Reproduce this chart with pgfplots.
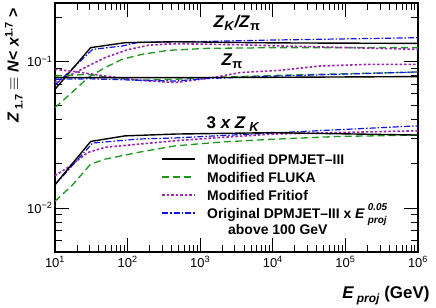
\documentclass[border=0pt]{standalone}
\usepackage{fontspec}
\setmainfont{Liberation Sans}
\usepackage{pgfplots}
\pgfplotsset{compat=1.18}
\definecolor{cgreen}{RGB}{30,150,30}
\definecolor{cpurple}{RGB}{150,40,170}
\definecolor{cblue}{RGB}{20,20,230}
\tikzset{
  sblack/.style={draw=black, line width=1.4bp},
  sgreen/.style={draw=cgreen, line width=1.3bp, dash pattern=on 7bp off 4bp},
  spurple/.style={draw=cpurple, line width=1.6bp, dash pattern=on 2.5bp off 2bp},
  sblue/.style={draw=cblue, line width=1.2bp, dash pattern=on 6bp off 2bp on 1.5bp off 2bp},
  legtext/.style={anchor=base west, inner sep=0pt, font=\fontsize{14}{14}\selectfont\bfseries},
}
\begin{document}
\begin{tikzpicture}
\useasboundingbox (-55bp,-56bp) rectangle (381bp,252bp);
\begin{axis}[
  scale only axis, width=363bp, height=249bp,
  xmode=log, ymode=log,
  xmin=10, xmax=1000000, ymin=0.005, ymax=0.25,
  xtick={10,100,1000,10000,100000,1000000},
  xticklabels={10\textsuperscript{1},10\textsuperscript{2},10\textsuperscript{3},10\textsuperscript{4},10\textsuperscript{5},10\textsuperscript{6}},
  ytick={0.01,0.1},
  yticklabels={10\textsuperscript{−2},10\textsuperscript{−1}},
  minor xtick={20,30,40,50,60,70,80,90,200,300,400,500,600,700,800,900,2000,3000,4000,5000,6000,7000,8000,9000,20000,30000,40000,50000,60000,70000,80000,90000,200000,300000,400000,500000,600000,700000,800000,900000},
  minor ytick={0.006,0.007,0.008,0.009,0.02,0.03,0.04,0.05,0.06,0.07,0.08,0.09,0.2},
  tick align=inside, major tick length=14bp, minor tick length=7bp,
  major tick style={black, line width=0.7bp},
  minor tick style={black, line width=0.7bp},
  axis line style={line width=1.3bp},
  tick label style={font=\fontsize{13}{13}\selectfont},
  xticklabel style={yshift=-1bp},
  yticklabel style={xshift=1bp},
  xlabel={\textbf{\textit{E}}\,\raisebox{-4bp}{\fontsize{12}{12}\selectfont\textbf{\textit{proj}}} \textbf{(GeV)}},
  xlabel style={at={(axis description cs:1.0413,-0.185)}, anchor=base east, font=\fontsize{17}{17}\selectfont},
  ylabel={\textbf{\textit{Z}}\,\raisebox{-4bp}{\fontsize{11}{11}\selectfont\textbf{1.7}} \textbf{$\equiv$} \textbf{\textit{N}}\textbf{<} \textbf{\textit{x}}\raisebox{6bp}{\fontsize{11}{11}\selectfont\textbf{1.7}} \textbf{>}},
  ylabel style={at={(axis description cs:-0.113,0.992)}, anchor=east, font=\fontsize{16}{16}\selectfont},
]
% ---------- Z_K / Z_pi ----------
\addplot[sgreen] coordinates {(10,0.0484) (17.1,0.0612) (28.5,0.0774) (49,0.0906) (84,0.1032) (158,0.1116) (360,0.1188) (1240,0.1226) (12560,0.1240) (1000000,0.1240)};
\addplot[spurple] coordinates {(10,0.0720) (19,0.0838) (28.5,0.0929) (49,0.1060) (100,0.1200) (200,0.1290) (450,0.1319) (3000,0.1300) (12560,0.1274) (1000000,0.1207)};
\addplot[sblue] coordinates {(10,0.0687) (33,0.1207) (84,0.1271) (140,0.1347) (1240,0.1368) (9150,0.1396) (1000000,0.1449)};
\addplot[sblack] coordinates {(10,0.0645) (31,0.1240) (92,0.1340) (450,0.1361) (10000,0.1336) (1000000,0.1325)};
% ---------- Z_pi ----------
\addplot[sgreen] coordinates {(10,0.0794) (28.5,0.0815) (49,0.0782) (139,0.0743) (450,0.0754) (1240,0.0774) (12560,0.0803) (1000000,0.0846)};
\addplot[spurple] coordinates {(10,0.0882) (19,0.0851) (49,0.0794) (139,0.0743) (450,0.0716) (1500,0.0774) (3530,0.0838) (12560,0.0868) (44700,0.0929) (218000,0.0954) (1000000,0.0954)};
\addplot[sblue] coordinates {(10,0.0754) (30,0.0760) (139,0.0743) (450,0.0734) (1240,0.0763) (12560,0.0794) (1000000,0.0846)};
\addplot[sblack] coordinates {(10,0.0774) (450,0.0774) (10000,0.0778) (1000000,0.0787)};
% ---------- 3 x Z_K ----------
\addplot[sgreen] coordinates {(10,0.0111) (17.1,0.0142) (31,0.0199) (49,0.0215) (139,0.0239) (450,0.0265) (2060,0.0282) (10000,0.0294) (76600,0.0307) (1000000,0.0314)};
\addplot[spurple] coordinates {(10,0.0166) (15.1,0.0189) (28.5,0.0239) (49,0.0259) (139,0.0272) (450,0.0287) (2060,0.0303) (10000,0.0319) (1000000,0.0336)};
\addplot[sblue] coordinates {(10,0.0144) (33,0.0277) (139,0.0295) (450,0.0300) (9150,0.0324) (1000000,0.0363)};
\addplot[sblack] coordinates {(10,0.0144) (31,0.0284) (92,0.0310) (450,0.0319) (10000,0.0326) (1000000,0.0314)};
% ---------- legend ----------
\draw[sblack]  (axis description cs:0.2948,0.3735) -- (axis description cs:0.3857,0.3735);
\draw[sgreen]  (axis description cs:0.2948,0.3012) -- (axis description cs:0.3857,0.3012);
\draw[spurple] (axis description cs:0.2948,0.2289) -- (axis description cs:0.3857,0.2289);
\draw[sblue]   (axis description cs:0.2948,0.1566) -- (axis description cs:0.3857,0.1566);
\node[legtext] at (axis description cs:0.4187,0.3534) {Modified DPMJET--III};
\node[legtext] at (axis description cs:0.4187,0.2811) {Modified FLUKA};
\node[legtext] at (axis description cs:0.4187,0.2088) {Modified Fritiof};
\node[legtext] at (axis description cs:0.4187,0.1365) {Original DPMJET--III x \textit{E}\hspace{3bp}\makebox[0pt][l]{\raisebox{8bp}{\fontsize{10}{10}\selectfont\textit{0.05}}}\raisebox{-5bp}{\fontsize{10}{10}\selectfont\textit{proj}}};
\node[legtext] at (axis description cs:0.4766,0.0683) {above 100 GeV};
% ---------- annotations ----------
\node[anchor=base west, font=\fontsize{17}{17}\selectfont\bfseries] at (axis description cs:0.427,0.9036) {\textit{Z}\raisebox{-3bp}{\fontsize{13}{13}\selectfont\textit{K}}\textit{/Z}\raisebox{-3bp}{\fontsize{13}{13}\selectfont π}};
\node[anchor=base west, font=\fontsize{17}{17}\selectfont\bfseries] at (axis description cs:0.449,0.751) {\textit{Z}\raisebox{-3bp}{\fontsize{13}{13}\selectfont π}};
\node[anchor=base west, font=\fontsize{17}{17}\selectfont\bfseries] at (axis description cs:0.408,0.498) {3 \textit{x Z}\raisebox{-3bp}{\fontsize{13}{13}\selectfont\textit{ K}}};
\end{axis}
\end{tikzpicture}
\end{document}
